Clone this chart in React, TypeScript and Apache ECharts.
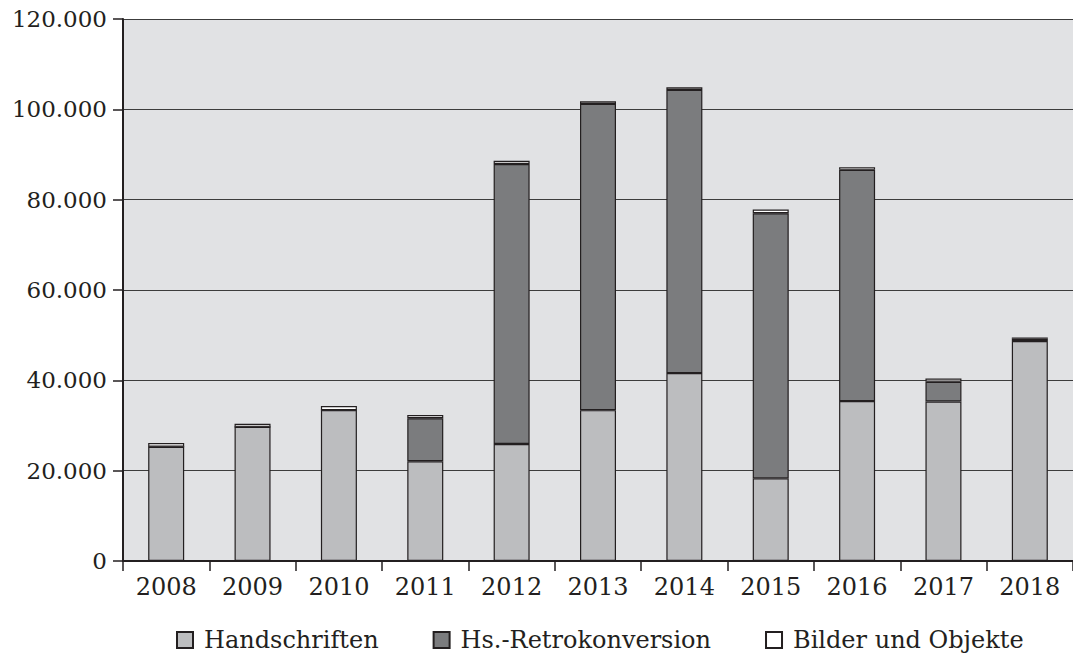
import React, { useEffect, useRef } from "react";
import * as echarts from "echarts";

// Jahre und Digitalisate je Bestandsgruppe
const years = ["2008", "2009", "2010", "2011", "2012", "2013", "2014", "2015", "2016", "2017", "2018"];
const handschriften = [25300, 29700, 33400, 22100, 25900, 33400, 41600, 18300, 35400, 35300, 48700];
const retrokonversion = [0, 0, 0, 9500, 62000, 67800, 62700, 58700, 51200, 4400, 500];
const bilderObjekte = [800, 700, 900, 700, 700, 600, 600, 800, 600, 700, 300];
const yTicks = [0, 20000, 40000, 60000, 80000, 100000, 120000];

const FONT = "DejaVu Serif";
const BORDER = "#231f20";

const fmt = (v: number) =>
  v === 0 ? "0" : `${Math.floor(v / 1000)}.${String(v % 1000).padStart(3, "0")}`;

export default function App() {
  const ref = useRef<HTMLDivElement>(null);

  useEffect(() => {
    if (!ref.current) return;
    const chart = echarts.init(ref.current, null, { renderer: "svg" });
    const seg = (name: string, data: number[], color: string) => ({
      name,
      type: "bar" as const,
      stack: "total",
      data,
      barWidth: 36,
      itemStyle: { color, borderColor: BORDER, borderWidth: 1.2 },
    });
    chart.setOption({
      animation: false,
      textStyle: { fontFamily: FONT },
      grid: {
        left: 123,
        right: -3,
        top: 19,
        bottom: 96,
        show: true,
        backgroundColor: "#e1e2e4",
        borderWidth: 0,
      },
      legend: {
        top: 627,
        left: 176,
        padding: 0,
        icon: "rect",
        itemWidth: 16,
        itemHeight: 16,
        itemGap: 54,
        textStyle: {
          fontFamily: FONT,
          fontSize: 24,
          lineHeight: 26,
          color: "#231f20",
          padding: [0, 0, 0, 6],
        },
        data: ["Handschriften", "Hs.-Retrokonversion", "Bilder und Objekte"],
      },
      xAxis: {
        type: "category",
        data: years,
        boundaryGap: true,
        axisLine: { show: true, lineStyle: { color: BORDER, width: 2 } },
        axisTick: { show: true, length: 10, lineStyle: { color: BORDER, width: 1.5 } },
        axisLabel: { fontFamily: FONT, fontSize: 24, color: "#231f20", margin: 14 },
      },
      yAxis: {
        type: "value",
        min: yTicks[0],
        max: yTicks[yTicks.length - 1],
        interval: yTicks[1] - yTicks[0],
        axisLine: { show: true, lineStyle: { color: BORDER, width: 2 } },
        axisTick: { show: true, length: 10, lineStyle: { color: BORDER, width: 1.5 } },
        axisLabel: {
          fontFamily: FONT,
          fontSize: 23,
          color: "#231f20",
          margin: 16,
          formatter: (v: number) => fmt(v),
        },
        splitLine: { show: true, lineStyle: { color: "#3c3c3c", width: 1.2 } },
      },
      series: [
        seg("Handschriften", handschriften, "#bcbdbf"),
        seg("Hs.-Retrokonversion", retrokonversion, "#7b7c7e"),
        seg("Bilder und Objekte", bilderObjekte, "#ffffff"),
      ],
    });
    return () => chart.dispose();
  }, []);

  return (
    <div
      ref={ref}
      style={{ position: "absolute", left: 0, top: 0, width: 1073, height: 657, background: "#ffffff" }}
    />
  );
}
